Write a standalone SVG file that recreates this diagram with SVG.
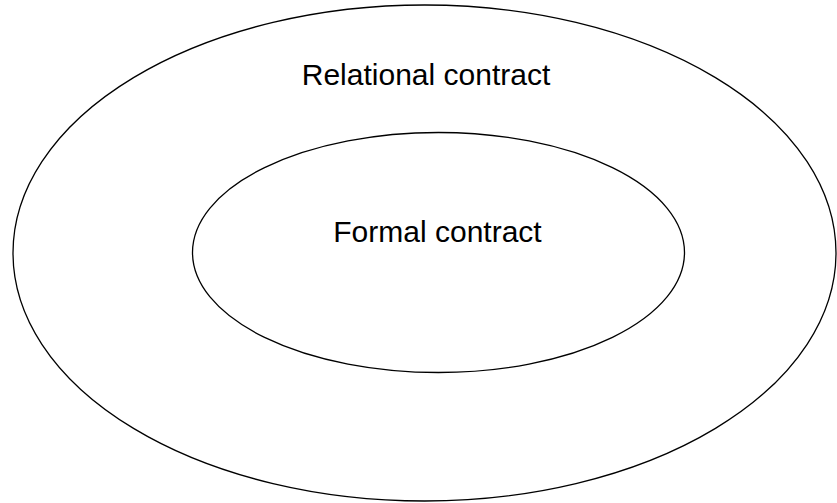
<svg xmlns="http://www.w3.org/2000/svg" width="837" height="503" viewBox="0 0 837 503">
<style>
.ring{fill:none;stroke:#000;stroke-width:1.3}
.lbl{font-family:"Liberation Sans",Arial,sans-serif;font-size:30px;fill:#000;text-anchor:middle}
</style>
<rect width="837" height="503" fill="#fff"/>
<g id="relational">
<ellipse class="ring" cx="424.5" cy="253" rx="411.5" ry="248"/>
<text class="lbl" x="426" y="85">Relational contract</text>
</g>
<g id="formal">
<ellipse class="ring" cx="438.5" cy="252.5" rx="246" ry="120"/>
<text class="lbl" x="437.5" y="242">Formal contract</text>
</g>
<g id="connectors"/>
</svg>
